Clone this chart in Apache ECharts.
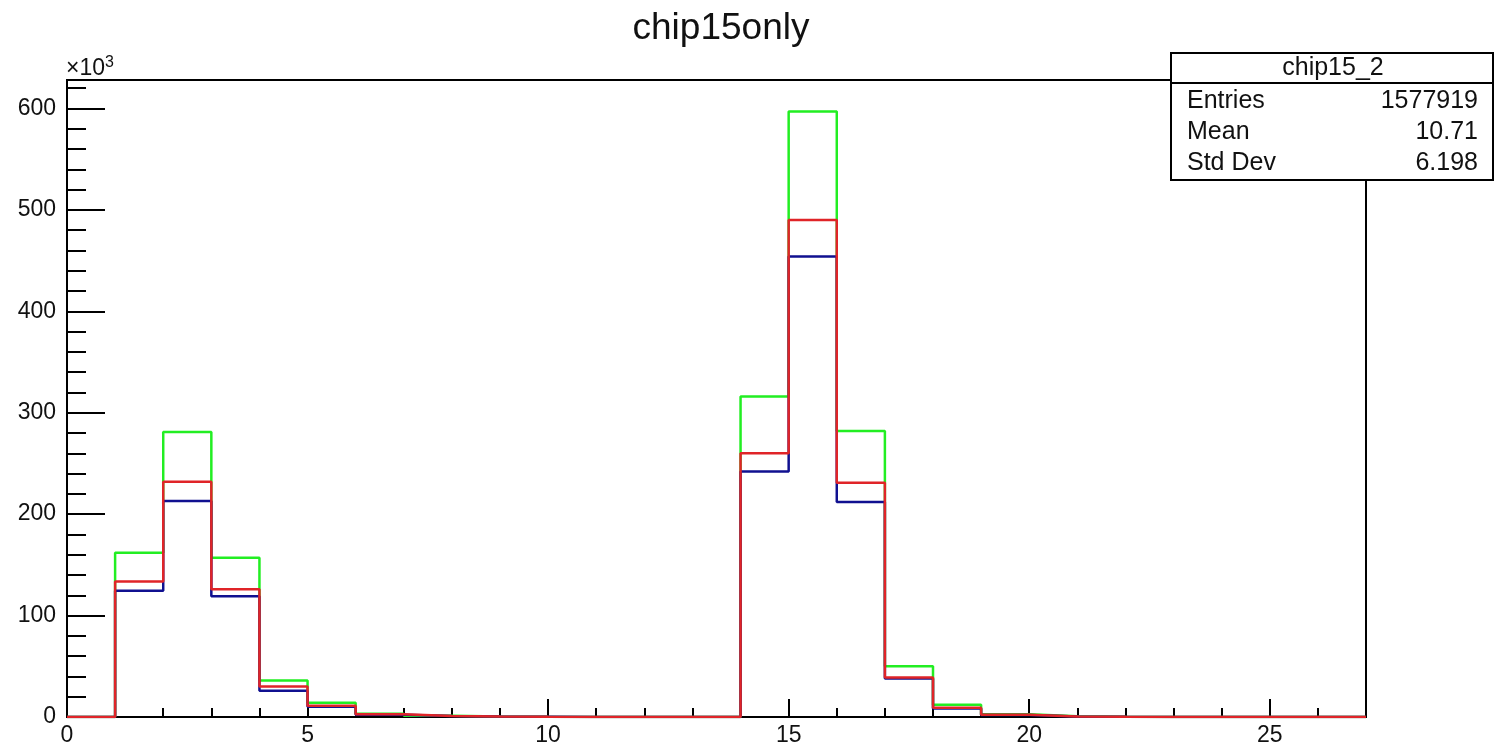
<!DOCTYPE html>
<html>
<head>
<meta charset="utf-8">
<script src="https://cdn.jsdelivr.net/npm/echarts@6/dist/echarts.min.js"></script>
<style>html,body{margin:0;padding:0;background:#fff;}#c{width:1498px;height:751px;}</style>
</head>
<body>
<div id="c"></div>
<script>
// bin lower edges 0..26, width 1
const binEdges = [0,1,2,3,4,5,6,7,8,9,10,11,12,13,14,15,16,17,18,19,20,21,22,23,24,25,26];
const xMax = 27;
const greenCounts = [0,162000,281000,157000,36000,14000,3200,1200,600,300,100,0,0,0,316000,597000,282000,50000,12000,2600,800,300,100,0,0,0,0];
const blueCounts  = [0,124500,213000,119000,26000,10000,2300,900,400,200,100,0,0,0,242000,454000,212000,38000,8500,1900,500,200,100,0,0,0,0];
const redCounts   = [0,133500,232000,126000,30000,11000,2600,1000,500,200,100,0,0,0,260000,490000,231000,39000,9200,2100,600,200,100,0,0,0,0];
const yTickLabels = ['0','100','200','300','400','500','600'];
const statsTitle = 'chip15_2';
const statsRows = [['Entries','1577919'],['Mean','10.71'],['Std Dev','6.198']];

function stepData(counts){
  const d = binEdges.map((e,i)=>[e, counts[i]]);
  d.push([xMax, counts[counts.length-1]]);
  return d;
}
const FONT = '"Liberation Sans", Arial, sans-serif';
const chart = echarts.init(document.getElementById('c'));
const L=67, R=1366, T=80, B=717;
const option = {
  animation:false,
  backgroundColor:'#fff',
  title:{text:'chip15only', left:716, top:5, textAlign:'center',
    textStyle:{fontFamily:FONT, fontSize:37, fontWeight:'normal', color:'#111'}},
  grid:{left:L, right:1498-R, top:T, bottom:751-B, show:true, borderColor:'#000', borderWidth:2, backgroundColor:'transparent'},
  xAxis:[
    {type:'value', min:0, max:xMax, interval:5, position:'bottom',
      axisLine:{show:true, onZero:false, lineStyle:{color:'#000', width:2}},
      axisTick:{show:true, inside:true, length:18, lineStyle:{color:'#000', width:2}},
      axisLabel:{show:true, margin:7, fontFamily:FONT, fontSize:23, color:'#111', showMaxLabel:false},
      splitLine:{show:false}},
    {type:'value', min:0, max:xMax, interval:1, position:'bottom', offset:0,
      axisLine:{show:false},
      axisTick:{show:true, inside:true, length:9, lineStyle:{color:'#000', width:2}},
      axisLabel:{show:false}, splitLine:{show:false}}
  ],
  yAxis:[
    {type:'value', min:0, max:628000, interval:100000, position:'left',
      axisLine:{show:true, onZero:false, lineStyle:{color:'#000', width:2}},
      axisTick:{show:true, inside:true, length:38, lineStyle:{color:'#000', width:2}},
      axisLabel:{show:true, margin:11, fontFamily:FONT, fontSize:23, color:'#111', showMaxLabel:false,
        formatter:(v)=>{const i=Math.round(v/100000); return (Math.abs(v-i*100000)<1 && yTickLabels[i]!==undefined)? yTickLabels[i] : '';}},
      splitLine:{show:false}},
    {type:'value', min:0, max:628000, interval:20000, position:'left', offset:0,
      axisLine:{show:false},
      axisTick:{show:true, inside:true, length:19, lineStyle:{color:'#000', width:2}},
      axisLabel:{show:false}, splitLine:{show:false}}
  ],
  series:[
    {name:'green', type:'line', step:'end', data:stepData(greenCounts), symbol:'none', lineStyle:{color:'#22ee22', width:2.5}, z:2},
    {name:'blue', type:'line', step:'end', data:stepData(blueCounts), symbol:'none', lineStyle:{color:'#101090', width:2.5}, z:3},
    {name:'red', type:'line', step:'end', data:stepData(redCounts), symbol:'none', lineStyle:{color:'#e02428', width:2.5}, z:4}
  ],
  graphic:[
    {type:'text', left:66, top:55, z:100, style:{
      text:'×10{s|3}', rich:{s:{fontSize:16, verticalAlign:'top', padding:[0,0,12,0], fontFamily:FONT, fill:'#111'}},
      font:'23px '+FONT, fill:'#111'}},
    {type:'rect', z:100, shape:{x:1171, y:53, width:322, height:127}, style:{fill:'#fff', stroke:'#000', lineWidth:2}},
    {type:'line', z:101, shape:{x1:1171, y1:83, x2:1493, y2:83}, style:{stroke:'#000', lineWidth:2}},
    {type:'text', z:101, x:1333, y:68, style:{text:statsTitle, font:'25px '+FONT, fill:'#111', textAlign:'center', textVerticalAlign:'middle'}},
    ...statsRows.flatMap((r,i)=>[
      {type:'text', z:101, x:1187, y:101+i*31, style:{text:r[0], font:'25px '+FONT, fill:'#111', textAlign:'left', textVerticalAlign:'middle'}},
      {type:'text', z:101, x:1478, y:101+i*31, style:{text:r[1], font:'25px '+FONT, fill:'#111', textAlign:'right', textVerticalAlign:'middle'}}
    ])
  ]
};
chart.setOption(option);
</script>
</body>
</html>
